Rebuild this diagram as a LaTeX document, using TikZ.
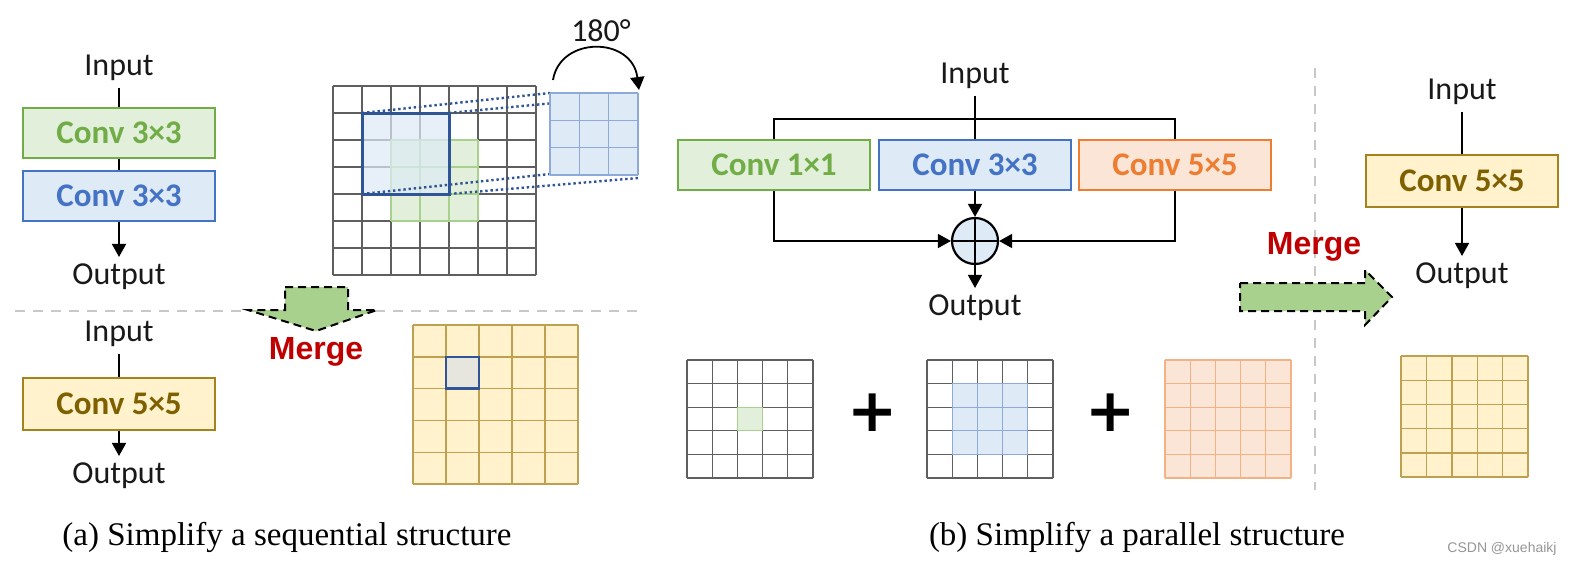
\documentclass[tikz,border=0pt]{standalone}
\usepackage{fontspec}
\setmainfont{Carlito}
\newfontfamily\capfont{Liberation Serif}
\newfontfamily\arialfont{Liberation Sans}
\newfontfamily\djvfont{DejaVu Sans}
\usetikzlibrary{arrows.meta,calc}

\definecolor{gfill}{RGB}{226,239,218}
\definecolor{gline}{RGB}{112,173,71}
\definecolor{glight}{RGB}{169,209,142}
\definecolor{bfill}{RGB}{222,235,247}
\definecolor{bline}{RGB}{68,114,196}
\definecolor{blight}{RGB}{142,170,219}
\definecolor{bdark}{RGB}{47,85,151}
\definecolor{ofill}{RGB}{251,229,214}
\definecolor{oline}{RGB}{237,125,49}
\definecolor{olight}{RGB}{244,177,131}
\definecolor{yfill}{RGB}{255,242,204}
\definecolor{yline}{RGB}{165,130,30}
\definecolor{ytext}{RGB}{127,96,0}
\definecolor{ygrid}{RGB}{190,160,80}
\definecolor{mgreen}{RGB}{169,209,142}
\definecolor{mred}{RGB}{192,0,0}
\definecolor{sepgray}{RGB}{200,200,200}
\definecolor{gridk}{RGB}{95,95,95}
\definecolor{hcell}{RGB}{231,230,222}
\definecolor{wmark}{RGB}{150,150,150}

\newcommand{\cellgrid}[6]{%
  \foreach \k in {0,...,#3}{%
    \draw[#6] ({#1+\k*#4},#2) -- ({#1+\k*#4},{#2+#3*#5});
    \draw[#6] (#1,{#2+\k*#5}) -- ({#1+#3*#4},{#2+\k*#5});
  }}

\tikzset{
  lbl/.style={font=\fontsize{16}{19}\selectfont, text=black!90},
  convbox/.style={draw, line width=1pt, minimum width=96pt, minimum height=25pt, inner sep=0pt, font=\fontsize{16.5}{19}\selectfont\bfseries},
  gbox/.style={convbox, fill=gfill, draw=gline, text=gline},
  bbox/.style={convbox, fill=bfill, draw=bline, text=bline},
  obox/.style={convbox, fill=ofill, draw=oline, text=oline},
  ybox/.style={convbox, fill=yfill, draw=yline, text=ytext, minimum height=26pt},
  conn/.style={line width=0.8pt, draw=black},
  arr/.style={conn, -{Triangle[length=6.5pt,width=7pt]}},
  kgrid/.style={draw=gridk, line width=0.6pt},
  ggrid/.style={draw=glight, line width=0.6pt},
  bgrid/.style={draw=blight, line width=0.6pt},
  ogrid/.style={draw=olight, line width=0.6pt},
  yg/.style={draw=ygrid, line width=0.7pt},
  mergearrow/.style={fill=mgreen, draw=black, line width=1pt, dash pattern=on 4pt off 2.5pt, line join=miter},
  mergetxt/.style={font=\arialfont\bfseries\fontsize{16}{19}\selectfont, text=mred},
  dotline/.style={draw=bdark, line width=1.2pt, dash pattern=on 1.2pt off 1.4pt},
  sepline/.style={draw=sepgray, line width=1pt, dash pattern=on 5pt off 4pt},
  plussign/.style={font=\djvfont\bfseries\fontsize{30}{30}\selectfont, inner sep=0pt},
  caption/.style={font=\capfont\fontsize{16.5}{20}\selectfont},
}

\begin{document}
\begin{tikzpicture}[x=0.5pt, y=-0.5pt]
\useasboundingbox (0,0) rectangle (1572,573);
\fill[white] (0,0) rectangle (1572,573);

% ---------------- (a) sequential ----------------
\node[lbl] (inA) at (119,68) {Input};
\node[gbox] (c1) at (119,133) {Conv 3×3};
\node[bbox] (c2) at (119,196) {Conv 3×3};
\node[lbl] (outA) at (119,277) {Output};
\draw[conn] (inA) -- (c1);
\draw[conn] (c1) -- (c2);
\draw[arr] (c2) -- (outA);

\draw[sepline] (15,311) -- (640,311);

\node[lbl] (inA2) at (119,334) {Input};
\node[ybox] (c3) at (119,404) {Conv 5×5};
\node[lbl] (outA2) at (119,476) {Output};
\draw[conn] (inA2) -- (c3);
\draw[arr] (c3) -- (outA2);

% 7x7 input grid
\cellgrid{333}{86}{7}{29}{27}{kgrid}
\fill[gfill] (391,140) rectangle (478,221);
\cellgrid{391}{140}{3}{29}{27}{ggrid}
\fill[bfill, opacity=0.7] (362,113) rectangle (449,194);
\draw[bdark, line width=1.5pt] (362,113) rectangle (449,194);

% dotted projection lines
\draw[dotline] (362,113) -- (550,93);
\draw[dotline] (449,113) -- (638,95);
\draw[dotline] (362,194) -- (550,174);
\draw[dotline] (449,194) -- (638,178);

% rotated kernel
\fill[bfill] (550,93) rectangle (638,175);
\cellgrid{550}{93}{3}{29.33}{27.33}{bgrid}

% rotation arrow
\node[lbl] (deg) at (601,31) {180°};
\draw[arr, line width=0.9pt] (553,80) .. controls (560,36) and (632,36) .. (639,90);

% merge arrow (down)
\draw[mergearrow] (285,287) -- (348,287) -- (348,310) -- (377,310) -- (316,331) -- (248,310) -- (285,310) -- cycle;
\node[mergetxt] (mergeA) at (316,352) {Merge};

% merged 5x5 kernel
\fill[yfill] (413,325) rectangle (578,484);
\cellgrid{413}{325}{5}{33}{31.8}{yg}
\fill[hcell] (446,356.8) rectangle (479,388.6);
\draw[bdark, line width=1.3pt] (446,356.8) rectangle (479,388.6);

\node[caption] (capA) at (287,537) {(a) Simplify a sequential structure};

% ---------------- (b) parallel ----------------
\node[lbl] (inB) at (975,76) {Input};
\node[gbox] (g1) at (774,165) {Conv 1×1};
\node[bbox] (b1) at (975,165) {Conv 3×3};
\node[obox] (o1) at (1175,165) {Conv 5×5};
\coordinate (bus) at (975,119);
\draw[conn] (inB) -- (b1);
\draw[conn] (g1.north) -- (g1.north |- bus) -| (o1.north);

\node[circle, draw=black, line width=1.1pt, fill=bfill, minimum size=23pt, inner sep=0pt] (sum) at (975,241) {};
\draw[line width=0.8pt] (sum.north) -- (sum.south) (sum.west) -- (sum.east);
\draw[arr] (b1) -- (sum);
\draw[arr] (g1.south) |- (sum.west);
\draw[arr] (o1.south) |- (sum.east);
\node[lbl] (outB) at (975,308) {Output};
\draw[arr] (sum) -- (outB);

% kernels
\cellgrid{687}{360}{5}{25.2}{23.6}{kgrid}
\fill[gfill] (737.4,407.2) rectangle (762.6,430.8);
\draw[glight, line width=0.6pt] (737.4,407.2) rectangle (762.6,430.8);

\node[plussign] (p1) at (873,413) {+};

\cellgrid{927}{360}{5}{25.2}{23.6}{kgrid}
\fill[bfill] (952.2,383.6) rectangle (1027.8,454.4);
\cellgrid{952.2}{383.6}{3}{25.2}{23.6}{bgrid}

\node[plussign] (p2) at (1111,413) {+};

\fill[ofill] (1165,360) rectangle (1291,478);
\cellgrid{1165}{360}{5}{25.2}{23.6}{ogrid}

% separator
\draw[sepline] (1315,68) -- (1315,490);

% merge arrow (right)
\draw[mergearrow] (1240,283) -- (1365,283) -- (1365,270) -- (1392,297) -- (1365,325) -- (1365,311) -- (1240,311) -- cycle;
\node[mergetxt] (mergeB) at (1314,247) {Merge};

% merged branch
\node[lbl] (inC) at (1462,92) {Input};
\node[ybox] (c5) at (1462,181) {Conv 5×5};
\node[lbl] (outC) at (1462,276) {Output};
\draw[conn] (inC) -- (c5);
\draw[arr] (c5) -- (outC);

\fill[yfill] (1401,356) rectangle (1528,477);
\cellgrid{1401}{356}{5}{25.4}{24.2}{yg}

\node[caption] (capB) at (1137,537) {(b) Simplify a parallel structure};
\node[font=\arialfont\fontsize{7}{8}\selectfont, text=wmark] (wm) at (1502,549) {CSDN @xuehaikj};
\end{tikzpicture}
\end{document}
